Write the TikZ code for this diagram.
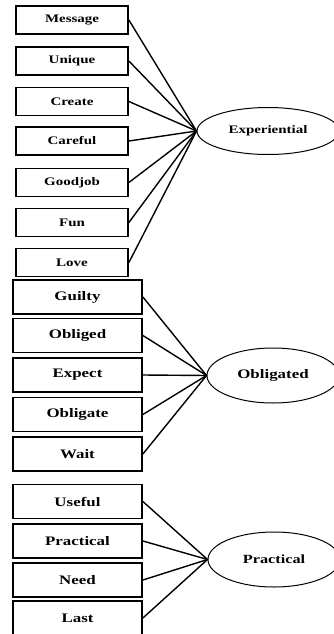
\documentclass[tikz,border=0pt]{standalone}
\usepackage{fontspec}
\setmainfont{Liberation Serif}
\newfontfamily\itemfont[FakeStretch=1.3]{Liberation Serif}
\usepackage{tikz}
\usetikzlibrary{shapes.geometric}

\begin{document}
\begin{tikzpicture}[x=1pt,y=-1pt,
  item/.style={rectangle,draw,line width=1.8pt,fill=white,minimum width=112pt,minimum height=28pt,inner sep=0pt,font=\itemfont\fontsize{11.5}{13}\selectfont\bfseries},
  itembig/.style={item,minimum width=129pt,minimum height=34pt,font=\itemfont\fontsize{13}{15}\selectfont\bfseries},
  factor/.style={ellipse,draw,line width=1pt,inner sep=0pt,font=\itemfont\fontsize{11.5}{13}\selectfont\bfseries},
  link/.style={line width=1.4pt}
  ]

\useasboundingbox (0,0) rectangle (333,634);

% experiential items
\node[item] (msg) at (72,20) {Message};
\node[item] (uniq) at (72,61) {Unique};
\node[item] (crt) at (72,101.5) {Create};
\node[item] (care) at (72,141) {Careful};
\node[item] (good) at (72,182.5) {Goodjob};
\node[item] (fun) at (72,222.5) {Fun};
\node[item] (love) at (72,262.5) {Love};

% obligated items
\node[itembig] (guil) at (77.5,297) {Guilty};
\node[itembig] (oblg) at (77.5,335.5) {Obliged};
\node[itembig] (expc) at (77.5,375) {Expect};
\node[itembig] (obgt) at (77.5,414.5) {Obligate};
\node[itembig] (wait) at (77.5,454) {Wait};

% practical items
\node[itembig] (usef) at (77.5,501.5) {Useful};
\node[itembig] (prac) at (77.5,541) {Practical};
\node[itembig] (need) at (77.5,580) {Need};
\node[itembig] (last) at (77.5,618) {Last};

% factors
\node[factor,minimum width=142pt,minimum height=47pt] (exp) at (268,131) {Experiential};
\node[factor,minimum width=132pt,minimum height=55pt,font=\itemfont\fontsize{13}{15}\selectfont\bfseries] (obl) at (273,375.5) {Obligated};
\node[factor,minimum width=132pt,minimum height=55pt,font=\itemfont\fontsize{12.5}{14}\selectfont\bfseries] (pra) at (274,559.5) {Practical};

% links
\foreach \n in {msg,uniq,crt,care,good,fun,love}
  \draw[link] (\n.east) -- (exp.west);
\foreach \n in {guil,oblg,expc,obgt,wait}
  \draw[link] (\n.east) -- (obl.west);
\foreach \n in {usef,prac,need,last}
  \draw[link] (\n.east) -- (pra.west);

\end{tikzpicture}
\end{document}
